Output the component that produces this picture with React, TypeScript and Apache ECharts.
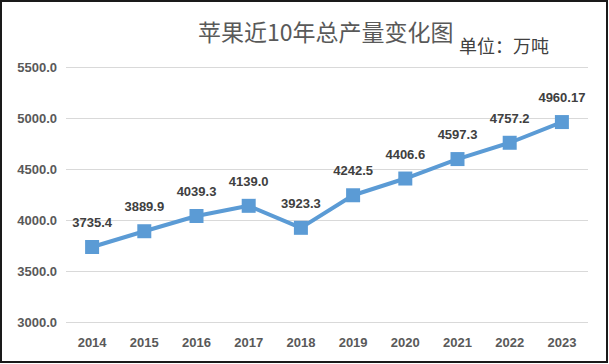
import React, { useEffect, useRef } from "react";
import * as echarts from "echarts";

const years = ["2014", "2015", "2016", "2017", "2018", "2019", "2020", "2021", "2022", "2023"];
const output = [3735.4, 3889.9, 4039.3, 4139.0, 3923.3, 4242.5, 4406.6, 4597.3, 4757.2, 4960.17];
const outputLabels = ["3735.4", "3889.9", "4039.3", "4139.0", "3923.3", "4242.5", "4406.6", "4597.3", "4757.2", "4960.17"];
const title = "苹果近10年总产量变化图";
const unitText = "单位：万吨";

export default function App() {
  const ref = useRef<HTMLDivElement>(null);
  useEffect(() => {
    const chart = echarts.init(ref.current!, null, { renderer: "svg" });
    chart.setOption({
      animation: false,
      backgroundColor: "#fff",
      title: {
        text: title,
        left: 193,
        top: 14,
        textStyle: { fontFamily: "Noto Sans CJK SC", fontSize: 23, fontWeight: "normal", color: "#595959" },
      },
      graphic: [
        {
          type: "text",
          left: 459,
          top: 36,
          style: { text: unitText, fontFamily: "Noto Sans CJK SC", fontSize: 18, fill: "#404040" },
        },
        {
          type: "rect",
          shape: { x: 1, y: 1, width: 606, height: 361 },
          style: { fill: "none", stroke: "#1a1a1a", lineWidth: 2 },
          silent: true,
        },
      ],
      grid: { left: 66, right: 21, top: 67, bottom: 42 },
      xAxis: {
        type: "category",
        data: years,
        axisLine: { show: false },
        axisTick: { show: false },
        axisLabel: { color: "#595959", fontFamily: "Liberation Sans", fontWeight: "bold", fontSize: 13, margin: 14 },
      },
      yAxis: {
        type: "value",
        min: 3000,
        max: 5500,
        interval: 500,
        axisLabel: {
          color: "#595959",
          fontFamily: "Liberation Sans",
          fontWeight: "bold",
          fontSize: 13,
          margin: 9,
          formatter: (v: number) => v.toFixed(1),
        },
        splitLine: { lineStyle: { color: "#D9D9D9", width: 1 } },
      },
      series: [
        {
          type: "line",
          data: output,
          symbol: "rect",
          symbolSize: 14,
          itemStyle: { color: "#5B9BD5" },
          lineStyle: { color: "#5B9BD5", width: 4 },
          label: {
            show: true,
            position: "top",
            distance: 11,
            color: "#404040",
            fontFamily: "Liberation Sans",
            fontWeight: "bold",
            fontSize: 13,
            formatter: (p: any) => outputLabels[p.dataIndex],
          },
        },
      ],
    });
    return () => chart.dispose();
  }, []);
  return <div ref={ref} style={{ position: "absolute", left: 0, top: 0, width: 609, height: 364 }} />;
}
